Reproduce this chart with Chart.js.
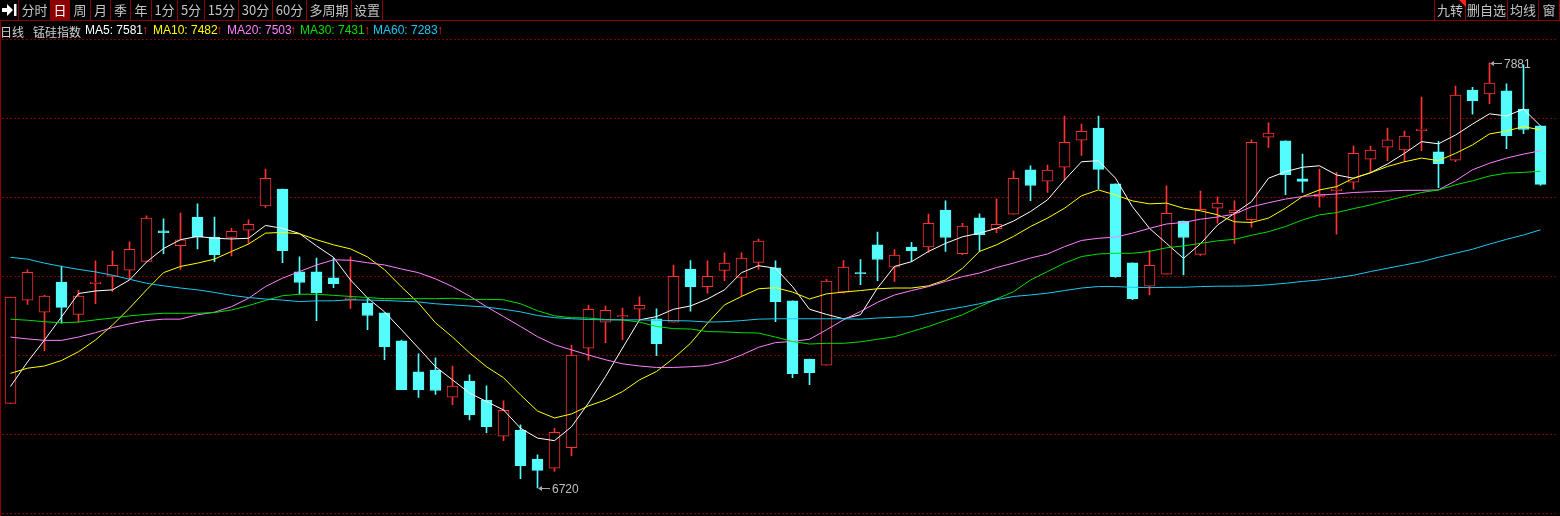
<!DOCTYPE html>
<html>
<head>
<meta charset="utf-8">
<script src="https://cdn.jsdelivr.net/npm/chart.js@4"></script>
<style>
  html, body { margin: 0; padding: 0; background: #000; }
  #wrap { position: relative; width: 1560px; height: 516px; overflow: hidden; background: #000; }
  #tool { position: absolute; left: 0; top: 0; width: 1560px; height: 21px; border-bottom: 1px solid #8c0000; box-sizing: border-box; }
  .btn { position: absolute; top: 0; height: 20px; line-height: 20px; border-right: 1px solid #8c0000; box-sizing: border-box;
         color: #c4c4c4; font: 13px "Noto Sans CJK SC", sans-serif; text-align: center; white-space: nowrap; }
  .btn.on { background: #8c0000; color: #fff; }
  .btn svg { position: absolute; left: 2px; top: 3px; }
  .info { position: absolute; top: 23px; height: 16px; line-height: 16px; font: 12px "Liberation Sans", "DejaVu Sans", sans-serif; white-space: nowrap; }
  .cn { font-family: "Noto Sans CJK SC", sans-serif; color: #d0d0d0; }
  .arr { color: #ff2a2a; }
  #frameL { position: absolute; left: 0; top: 20px; width: 1px; height: 496px; background: #8c0000; }
  #tri { position: absolute; left: 1459px; top: 0; width: 0; height: 0; border-top: 7px solid #ff2020; border-left: 7px solid transparent; }
  canvas { position: absolute; left: 0; top: 0; }
</style>
</head>
<body>
<div id="wrap">
  <canvas id="kline" width="1560" height="516"></canvas>
  <div id="tool"></div>
  <div id="tri"></div>
  <div id="frameL"></div>
  <div id="infoLine"></div>
</div>
<script>
// 开高收低 (每根K线一个值)
var opens  = [6951,7233,7200,7282,7194,7278,7298,7315,7339,7422,7382,7460,7405,7404,7424,7490,7536,7310,7310,7294,
              7233,7225,7198,7122,7037,7042,6968,7012,6960,6861,6878,6799,6774,6830,7102,7173,7187,7208,7182,7173,
              7318,7270,7314,7295,7336,7321,7231,7072,7055,7255,7308,7384,7323,7378,7378,7479,7360,7458,7428,7468,
              7589,7558,7596,7670,7703,7551,7335,7271,7304,7449,7358,7484,7472,7453,7678,7668,7564,7516,7532,7555,
              7618,7651,7643,7696,7638,7615,7807,7796,7805,7755,7709];
var closes = [7241,7309,7244,7213,7244,7282,7328,7372,7457,7417,7398,7405,7357,7421,7440,7566,7368,7281,7253,7278,
              7239,7191,7106,6988,6988,6986,6998,6920,6887,6932,6781,6768,6872,7083,7208,7205,7191,7219,7114,7298,
              7269,7298,7334,7348,7394,7229,7032,7035,7285,7323,7305,7344,7356,7368,7443,7404,7435,7412,7440,7566,
              7546,7588,7664,7694,7590,7297,7237,7328,7470,7404,7481,7498,7479,7664,7689,7576,7557,7523,7536,7634,
              7643,7671,7681,7700,7606,7793,7778,7826,7682,7699,7549];
var highs  = [7241,7316,7246,7326,7260,7340,7367,7392,7463,7455,7471,7496,7460,7429,7452,7591,7536,7351,7348,7348,
              7351,7237,7198,7124,7086,7075,7053,7029,6999,6958,6892,6810,6883,7110,7219,7217,7211,7242,7209,7329,
              7341,7340,7362,7362,7400,7340,7231,7072,7290,7341,7344,7419,7371,7391,7468,7504,7443,7469,7510,7586,
              7600,7602,7736,7714,7736,7551,7335,7369,7545,7449,7531,7515,7504,7671,7717,7668,7632,7591,7582,7654,
              7654,7703,7695,7788,7667,7818,7814,7881,7824,7876,7709];
var lows   = [6951,7221,7095,7170,7173,7223,7257,7288,7339,7360,7317,7373,7338,7354,7388,7486,7335,7250,7177,7267,
              7210,7152,7070,6988,6967,6975,6947,6906,6871,6849,6745,6720,6765,6808,7069,7117,7125,7179,7081,7173,
              7203,7252,7286,7244,7317,7174,7021,7002,7055,7252,7275,7286,7284,7339,7363,7366,7357,7366,7417,7468,
              7505,7527,7561,7628,7537,7295,7234,7248,7304,7302,7355,7443,7388,7432,7650,7521,7527,7487,7413,7536,
              7581,7614,7611,7641,7540,7611,7741,7770,7647,7688,7546];

// 均线
var ma5  = [6997,7064,7124,7187,7251,7258,7261,7288,7337,7374,7398,7407,7402,7400,7402,7437,7429,7415,7381,7350,
            7288,7239,7201,7152,7102,7051,7015,6979,6956,6933,6883,6856,6849,6887,6952,7024,7102,7179,7188,7208,
            7217,7236,7261,7308,7327,7320,7270,7208,7194,7182,7193,7266,7325,7338,7366,7388,7406,7416,7429,7449,
            7475,7507,7561,7611,7614,7566,7488,7429,7388,7347,7387,7438,7470,7502,7566,7584,7596,7600,7575,7566,
            7581,7605,7634,7666,7660,7684,7714,7742,7736,7755,7709];
var ma10 = [7033,7047,7053,7068,7092,7124,7165,7211,7261,7308,7325,7334,7345,7366,7386,7416,7418,7414,7398,7384,
            7373,7351,7316,7269,7225,7171,7132,7089,7051,7021,6974,6930,6911,6922,6944,6960,6983,7015,7038,7074,
            7115,7170,7220,7243,7264,7267,7255,7236,7250,7255,7259,7264,7266,7266,7272,7288,7320,7366,7384,7407,
            7434,7457,7484,7518,7534,7520,7504,7496,7498,7484,7477,7466,7447,7445,7457,7484,7516,7534,7543,7566,
            7581,7598,7611,7621,7614,7634,7657,7687,7695,7707,7698];
var ma20 = [7132,7127,7123,7123,7132,7144,7158,7168,7177,7181,7181,7193,7200,7215,7238,7270,7293,7311,7329,7343,
            7342,7335,7329,7318,7308,7291,7270,7244,7215,7188,7161,7133,7111,7097,7083,7070,7059,7053,7049,7049,
            7051,7054,7065,7083,7104,7117,7120,7126,7152,7179,7202,7227,7247,7259,7270,7284,7297,7307,7322,7334,
            7348,7359,7379,7396,7402,7405,7416,7429,7441,7445,7454,7460,7468,7488,7499,7509,7516,7520,7523,7527,
            7529,7531,7533,7533,7534,7559,7589,7607,7621,7632,7641];
var ma30 = [7181,7178,7174,7171,7173,7179,7184,7190,7194,7197,7197,7197,7199,7206,7218,7232,7245,7249,7249,7246,
            7243,7240,7237,7237,7237,7237,7238,7235,7235,7234,7223,7204,7190,7185,7184,7180,7179,7173,7161,7155,
            7154,7147,7146,7144,7143,7132,7120,7113,7115,7115,7119,7126,7133,7147,7161,7177,7193,7215,7236,7256,
            7288,7311,7334,7352,7359,7361,7361,7366,7376,7381,7388,7395,7399,7410,7420,7434,7452,7466,7472,7483,
            7493,7505,7516,7527,7534,7548,7559,7572,7580,7582,7585];
var ma60 = [7350,7345,7334,7325,7317,7310,7301,7290,7279,7272,7266,7261,7254,7246,7240,7236,7233,7229,7231,7231,
            7234,7233,7232,7230,7228,7223,7220,7217,7214,7208,7201,7191,7185,7182,7180,7179,7179,7179,7178,7177,
            7176,7173,7174,7177,7181,7182,7182,7182,7182,7182,7181,7184,7186,7188,7197,7206,7214,7223,7234,7243,
            7247,7252,7259,7266,7270,7270,7268,7267,7268,7268,7270,7271,7271,7272,7275,7279,7284,7288,7294,7301,
            7311,7320,7329,7338,7350,7361,7372,7386,7399,7411,7425];

// 顶部工具条
var toolLeft  = ['', '分时','日','周','月','季','年','1分','5分','15分','30分','60分','多周期','设置'];
var toolRight = ['九转','删自选','均线','窗'];
// 信息栏
var maNames   = ['MA5','MA10','MA20','MA30','MA60'];
var maLegend  = [7581, 7482, 7503, 7431, 7283];
var maColors  = ['#ffffff', '#ffff00', '#ff80ff', '#00e000', '#1ec8f0'];

var RED = '#ff3232', CYAN = '#54fcfc';

// 工具条按钮
var tool = document.getElementById('tool');
var leftEdges  = [0, 19, 51, 70, 91, 111, 131, 152, 178, 205, 239, 273, 307, 352, 383];
var rightEdges = [1435, 1466, 1508, 1539, 1560];
function addBtn(text, x0, x1, on) {
    var d = document.createElement('div');
    d.className = 'btn' + (on ? ' on' : '');
    d.style.left = x0 + 'px';
    d.style.width = (x1 - x0 + 1) + 'px';
    if (text) {
        d.textContent = text;
    } else {
        // 展开图标
        d.innerHTML = '<svg width="15" height="14" viewBox="0 0 15 14"><polygon points="0,5 5,5 5,1 11,7 5,13 5,9 0,9" fill="#fff"/><rect x="12" y="1" width="2.5" height="12" fill="#fff"/></svg>';
    }
    tool.appendChild(d);
}
toolLeft.forEach(function (t, i) { addBtn(t, leftEdges[i], leftEdges[i + 1] - 1, t === '日'); });
toolRight.forEach(function (t, i) { addBtn(t, rightEdges[i], rightEdges[i + 1] - 1, false); });
var sep = document.createElement('div');
sep.style.cssText = 'position:absolute;left:1434px;top:0;width:1px;height:20px;background:#8c0000';
tool.appendChild(sep);

// 信息栏文字
var info = document.getElementById('infoLine');
function addInfo(html, x, cls, color) {
    var s = document.createElement('span');
    s.className = 'info ' + (cls || '');
    s.style.left = x + 'px';
    if (color) s.style.color = color;
    s.innerHTML = html;
    info.appendChild(s);
}
addInfo('日线', 0, 'cn');
addInfo('锰硅指数', 33, 'cn');
var maX = [85, 153, 227, 300, 373];
var arX = [142, 216, 290, 364, 437];
maNames.forEach(function (n, i) {
    addInfo(n + ': ' + maLegend[i], maX[i], '', maColors[i]);
    addInfo('↑', arX[i], 'arr');
});

// 最高/最低价标注
var extremes = {
    id: 'extremes',
    afterDatasetsDraw: function (chart) {
        var ctx = chart.ctx, xs = chart.scales.x, ys = chart.scales.y;
        var hi = highs.indexOf(Math.max.apply(null, highs));
        var lo = lows.indexOf(Math.min.apply(null, lows));
        function mark(i, v) {
            var px = Math.round(xs.getPixelForValue(i)), py = Math.round(ys.getPixelForValue(v)) + 0.5;
            ctx.save();
            ctx.strokeStyle = '#a8a8a8';
            ctx.fillStyle = '#a8a8a8';
            ctx.lineWidth = 1;
            ctx.beginPath();
            ctx.moveTo(px + 1, py);
            ctx.lineTo(px + 12, py);
            ctx.stroke();
            ctx.beginPath();
            ctx.moveTo(px, py);
            ctx.lineTo(px + 4, py - 2.5);
            ctx.lineTo(px + 4, py + 2.5);
            ctx.closePath();
            ctx.fill();
            ctx.fillStyle = '#c0c0c0';
            ctx.font = '12px "Liberation Sans", sans-serif';
            ctx.textBaseline = 'alphabetic';
            ctx.fillText(String(v), px + 14, py + 4.5);
            ctx.restore();
        }
        mark(hi, highs[hi]);
        mark(lo, lows[lo]);
    }
};

var idx = opens.map(function (_, i) { return i; });
var isUp = idx.map(function (i) { return closes[i] >= opens[i]; });

function maSet(label, values, color) {
    return {
        type: 'line', label: label,
        data: values.map(function (v, i) { return { x: i, y: v }; }),
        borderColor: color, borderWidth: 1, pointRadius: 0, tension: 0, fill: false, order: 1
    };
}

var yMin = 6650, yMax = 7945;

new Chart(document.getElementById('kline').getContext('2d'), {
    data: {
        datasets: [
            {
                type: 'bar', label: '影线',
                data: idx.map(function (i) { return { x: i, y: [lows[i], highs[i]] }; }),
                backgroundColor: idx.map(function (i) { return isUp[i] ? RED : CYAN; }),
                barThickness: 1, grouped: false, order: 3
            },
            {
                type: 'bar', label: '实体',
                data: idx.map(function (i) { return { x: i, y: [opens[i], closes[i]] }; }),
                backgroundColor: idx.map(function (i) { return isUp[i] ? '#000000' : CYAN; }),
                borderColor: idx.map(function (i) { return isUp[i] ? RED : CYAN; }),
                borderWidth: 1, borderSkipped: false,
                barThickness: 11, grouped: false, order: 2
            },
            maSet('MA60', ma60, maColors[4]),
            maSet('MA30', ma30, maColors[3]),
            maSet('MA20', ma20, maColors[2]),
            maSet('MA10', ma10, maColors[1]),
            maSet('MA5', ma5, maColors[0])
        ]
    },
    options: {
        responsive: false,
        animation: false,
        devicePixelRatio: 1,
        events: [],
        layout: { padding: { left: 2, right: 2.5, top: 39.5, bottom: 2.5 } },
        plugins: { legend: { display: false }, tooltip: { enabled: false } },
        scales: {
            x: { type: 'linear', min: -0.5, max: 91, bounds: 'data', offset: false, grid: { offset: false }, display: false },
            y: {
                min: yMin, max: yMax,
                afterBuildTicks: function (s) {
                    var t = [];
                    for (var k = 0; k <= 6; k++) t.push({ value: yMin + k * (yMax - yMin) / 6 });
                    s.ticks = t;
                },
                ticks: { display: false },
                grid: { color: '#7c0000', drawTicks: false, lineWidth: 1 },
                border: { display: false, dash: [2, 2] }
            }
        }
    },
    plugins: [extremes]
});
</script>
</body>
</html>
